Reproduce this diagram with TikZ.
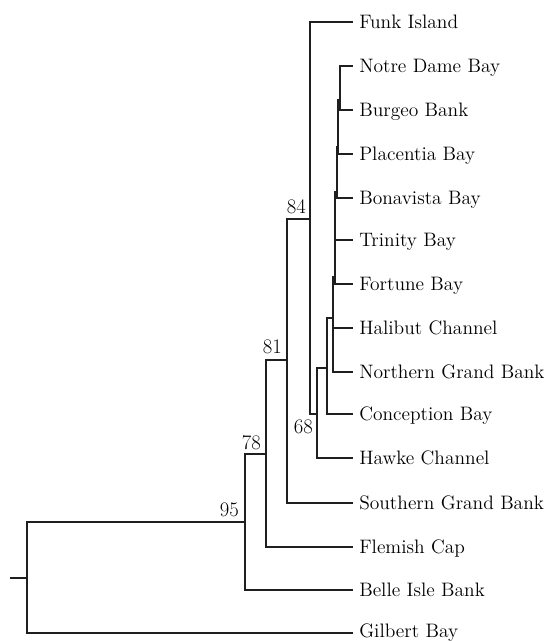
\documentclass[tikz,border=0pt]{standalone}
\usepackage{tikz}
\usetikzlibrary{calc}
\tikzset{
  branch/.style={draw=black!88,line width=1.5pt},
  tiplab/.style={anchor=base west,inner sep=0pt,font=\fontsize{14.6}{17}\selectfont},
  boot/.style={anchor=base east,inner sep=0pt,font=\fontsize{15.5}{18}\selectfont},
}

\begin{document}
\begin{tikzpicture}[x=0.75pt,y=-0.75pt]
\useasboundingbox (0,0) rectangle (553,641);
% inner nodes
\coordinate (base) at (10,578);
\coordinate (root) at (27,578);
\coordinate (n95) at (245,522);
\coordinate (n78) at (266,454);
\coordinate (n81) at (287,360);
\coordinate (n84) at (310,219);
\coordinate (n68) at (317,414);
\coordinate (nA) at (327,368);
\coordinate (nB) at (333,318);
\coordinate (n4) at (335,277);
\coordinate (n3) at (336.5,192);
\coordinate (n2) at (338,147);
\coordinate (n1) at (340,100);
% tips
\coordinate (funk) at (353,22);
\coordinate (notre) at (353,66);
\coordinate (burgeo) at (353,110);
\coordinate (placentia) at (353,154);
\coordinate (bonavista) at (353,198);
\coordinate (trinity) at (353,240);
\coordinate (fortune) at (353,284);
\coordinate (halibut) at (353,328);
\coordinate (northgb) at (353,372);
\coordinate (conception) at (353,414);
\coordinate (hawke) at (353,458);
\coordinate (southgb) at (353,503);
\coordinate (flemish) at (353,547);
\coordinate (belle) at (353,590);
\coordinate (gilbert) at (353,633);
% branches
\draw[branch] (base)--(root);
\draw[branch] (root) |- (n95);
\draw[branch] (root) |- (gilbert);
\draw[branch] (n95) |- (n78);
\draw[branch] (n95) |- (belle);
\draw[branch] (n78) |- (n81);
\draw[branch] (n78) |- (flemish);
\draw[branch] (n81) |- (n84);
\draw[branch] (n81) |- (southgb);
\draw[branch] (n84) |- (funk);
\draw[branch] (n84) |- (n68);
\draw[branch] (n68) |- (nA);
\draw[branch] (n68) |- (hawke);
\draw[branch] (nA) |- (nB);
\draw[branch] (nA) |- (conception);
\draw[branch] (nB) |- (n4);
\draw[branch] (nB) |- (halibut);
\draw[branch] (nB) |- (northgb);
\draw[branch] (n4) |- (n3);
\draw[branch] (n4) |- (trinity);
\draw[branch] (n4) |- (fortune);
\draw[branch] (n3) |- (n2);
\draw[branch] (n3) |- (bonavista);
\draw[branch] (n2) |- (n1);
\draw[branch] (n2) |- (placentia);
\draw[branch] (n1) |- (notre);
\draw[branch] (n1) |- (burgeo);
% tip labels
\node[tiplab] (lfunk) at ($(funk)+(6,6.5)$) {Funk Island};
\node[tiplab] (lnotre) at ($(notre)+(6,6.5)$) {Notre Dame Bay};
\node[tiplab] (lburgeo) at ($(burgeo)+(6,6.5)$) {Burgeo Bank};
\node[tiplab] (lplacentia) at ($(placentia)+(6,6.5)$) {Placentia Bay};
\node[tiplab] (lbonavista) at ($(bonavista)+(6,6.5)$) {Bonavista Bay};
\node[tiplab] (ltrinity) at ($(trinity)+(6,6.5)$) {Trinity Bay};
\node[tiplab] (lfortune) at ($(fortune)+(6,6.5)$) {Fortune Bay};
\node[tiplab] (lhalibut) at ($(halibut)+(6,6.5)$) {Halibut Channel};
\node[tiplab] (lnorthgb) at ($(northgb)+(6,6.5)$) {Northern Grand Bank};
\node[tiplab] (lconception) at ($(conception)+(6,6.5)$) {Conception Bay};
\node[tiplab] (lhawke) at ($(hawke)+(6,6.5)$) {Hawke Channel};
\node[tiplab] (lsouthgb) at ($(southgb)+(6,6.5)$) {Southern Grand Bank};
\node[tiplab] (lflemish) at ($(flemish)+(6,6.5)$) {Flemish Cap};
\node[tiplab] (lbelle) at ($(belle)+(6,6.5)$) {Belle Isle Bank};
\node[tiplab] (lgilbert) at ($(gilbert)+(6,4)$) {Gilbert Bay};
% bootstrap values
\node[boot] (b95) at ($(n95)+(-6,-6)$) {95};
\node[boot] (b78) at ($(n78)+(-5,-5)$) {78};
\node[boot] (b81) at ($(n81)+(-5,-7)$) {81};
\node[boot] (b84) at ($(n84)+(-4,-5)$) {84};
\node[boot] (b68) at ($(n68)+(-4,19)$) {68};
\end{tikzpicture}
\end{document}
